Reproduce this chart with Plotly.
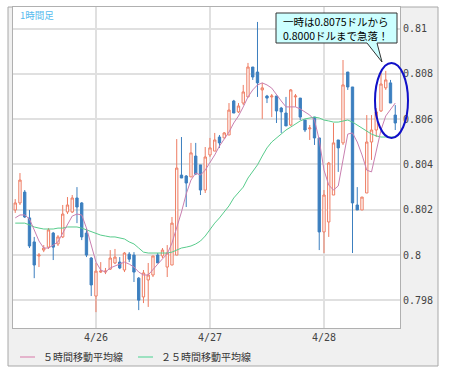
import plotly.graph_objects as go
import pandas as pd

# ---- data (hourly candles, 4/25 07:00 - 4/28 15:00) ----
times = pd.date_range("2017-04-25 07:00", periods=81, freq="h")

opens = [0.80199, 0.80230, 0.80278, 0.80164, 0.80058, 0.79996, 0.80022, 0.80035, 0.80097, 0.80049,
         0.80080, 0.80190, 0.80190, 0.80252, 0.80230, 0.80097, 0.79987, 0.79819, 0.79925, 0.79925,
         0.79938, 0.79965, 0.79969, 0.79934, 0.80004, 0.80000, 0.79898, 0.79815, 0.79890, 0.79912,
         0.80000, 0.79996, 0.79947, 0.79956, 0.80000, 0.80353, 0.80349, 0.80345, 0.80437, 0.80398,
         0.80287, 0.80442, 0.80459, 0.80521, 0.80517, 0.80530, 0.80680, 0.80632, 0.80671, 0.80698,
         0.80830, 0.80808, 0.80729, 0.80702, 0.80698, 0.80702, 0.80649, 0.80627, 0.80574, 0.80698,
         0.80693, 0.80596, 0.80557, 0.80609, 0.80517, 0.80102, 0.80146, 0.80265, 0.80508, 0.80495,
         0.80808, 0.80742, 0.80221, 0.80199, 0.80274, 0.80499, 0.80552, 0.80636, 0.80738, 0.80760,
         0.80618]
highs = [0.80247, 0.80362, 0.80287, 0.80199, 0.80080, 0.80009, 0.80044, 0.80119, 0.80102, 0.80088,
         0.80221, 0.80256, 0.80265, 0.80300, 0.80234, 0.80119, 0.79991, 0.79965, 0.79969, 0.79943,
         0.80022, 0.80027, 0.79991, 0.80013, 0.80013, 0.80013, 0.79903, 0.79934, 0.79965, 0.79996,
         0.80009, 0.80031, 0.80044, 0.80168, 0.80512, 0.80521, 0.80353, 0.80495, 0.80495, 0.80398,
         0.80477, 0.80517, 0.80539, 0.80530, 0.80543, 0.80671, 0.80685, 0.80671, 0.80751, 0.80848,
         0.80830, 0.81029, 0.80760, 0.80707, 0.80711, 0.80702, 0.80654, 0.80698, 0.80733, 0.80711,
         0.80693, 0.80596, 0.80574, 0.80609, 0.80517, 0.80287, 0.80411, 0.80583, 0.80508, 0.80861,
         0.80808, 0.80742, 0.80300, 0.80256, 0.80618, 0.80618, 0.80649, 0.80804, 0.80813, 0.80773,
         0.80662]
lows = [0.80186, 0.80221, 0.80164, 0.80031, 0.79898, 0.79947, 0.80013, 0.80027, 0.79978, 0.80040,
        0.80075, 0.80181, 0.80186, 0.80141, 0.80066, 0.79991, 0.79819, 0.79748, 0.79921, 0.79916,
        0.79934, 0.79960, 0.79938, 0.79925, 0.79969, 0.79881, 0.79757, 0.79788, 0.79771, 0.79903,
        0.79965, 0.79987, 0.79903, 0.79956, 0.80000, 0.80340, 0.80212, 0.80345, 0.80353, 0.80265,
        0.80274, 0.80433, 0.80459, 0.80473, 0.80517, 0.80530, 0.80627, 0.80627, 0.80662, 0.80698,
        0.80773, 0.80698, 0.80601, 0.80671, 0.80609, 0.80583, 0.80539, 0.80570, 0.80570, 0.80654,
        0.80596, 0.80543, 0.80508, 0.80486, 0.80022, 0.80009, 0.80080, 0.80265, 0.80367, 0.80486,
        0.80729, 0.80009, 0.80199, 0.80199, 0.80274, 0.80420, 0.80521, 0.80632, 0.80729, 0.80671,
        0.80552]
closes = [0.80230, 0.80331, 0.80168, 0.80040, 0.79956, 0.80000, 0.80031, 0.80111, 0.80035, 0.80080,
          0.80181, 0.80221, 0.80252, 0.80212, 0.80080, 0.80000, 0.79868, 0.79929, 0.79929, 0.79929,
          0.79987, 0.79991, 0.79943, 0.80009, 0.79982, 0.79925, 0.79801, 0.79921, 0.79912, 0.79996,
          0.79965, 0.80022, 0.80009, 0.80141, 0.80384, 0.80340, 0.80318, 0.80451, 0.80358, 0.80287,
          0.80433, 0.80473, 0.80508, 0.80495, 0.80539, 0.80640, 0.80627, 0.80658, 0.80720, 0.80830,
          0.80786, 0.80760, 0.80738, 0.80693, 0.80702, 0.80636, 0.80632, 0.80570, 0.80729, 0.80702,
          0.80609, 0.80552, 0.80561, 0.80517, 0.80102, 0.80265, 0.80406, 0.80495, 0.80473, 0.80751,
          0.80742, 0.80230, 0.80199, 0.80256, 0.80499, 0.80552, 0.80632, 0.80755, 0.80773, 0.80671,
          0.80583]
ma5 = [0.80164, 0.80177, 0.80177, 0.80159, 0.80111, 0.80062, 0.80031, 0.80031, 0.80044, 0.80058,
       0.80097, 0.80137, 0.80172, 0.80181, 0.80177, 0.80119, 0.80044, 0.79969, 0.79934, 0.79925,
       0.79943, 0.79952, 0.79960, 0.79969, 0.79960, 0.79947, 0.79925, 0.79912, 0.79912, 0.79934,
       0.79960, 0.79983, 0.80005, 0.80053, 0.80119, 0.80190, 0.80270, 0.80331, 0.80362, 0.80353,
       0.80375, 0.80406, 0.80442, 0.80481, 0.80512, 0.80543, 0.80583, 0.80614, 0.80654, 0.80698,
       0.80729, 0.80751, 0.80760, 0.80751, 0.80737, 0.80707, 0.80680, 0.80654, 0.80654, 0.80654,
       0.80645, 0.80632, 0.80618, 0.80596, 0.80508, 0.80375, 0.80309, 0.80287, 0.80305, 0.80420,
       0.80534, 0.80539, 0.80499, 0.80442, 0.80375, 0.80367, 0.80455, 0.80552, 0.80614, 0.80640,
       0.80671]
ma25 = [0.80141, 0.80141, 0.80141, 0.80133, 0.80124, 0.80119, 0.80115, 0.80115, 0.80115, 0.80119,
        0.80119, 0.80124, 0.80124, 0.80124, 0.80119, 0.80111, 0.80106, 0.80097, 0.80088, 0.80084,
        0.80080, 0.80080, 0.80075, 0.80071, 0.80058, 0.80049, 0.80031, 0.80013, 0.80009, 0.80009,
        0.80009, 0.80009, 0.80009, 0.80013, 0.80022, 0.80031, 0.80035, 0.80040, 0.80049, 0.80062,
        0.80084, 0.80115, 0.80141, 0.80164, 0.80190, 0.80217, 0.80252, 0.80274, 0.80300, 0.80340,
        0.80371, 0.80398, 0.80437, 0.80473, 0.80499, 0.80517, 0.80534, 0.80552, 0.80565, 0.80579,
        0.80592, 0.80601, 0.80605, 0.80609, 0.80605, 0.80596, 0.80592, 0.80587, 0.80587, 0.80592,
        0.80596, 0.80587, 0.80574, 0.80561, 0.80548, 0.80534, 0.80526, 0.80521, 0.80521, 0.80521,
        0.80521]

y_ticks = [0.798, 0.800, 0.802, 0.804, 0.806, 0.808, 0.810]
y_ticktext = ["0.798", "0.8", "0.802", "0.804", "0.806", "0.808", "0.81"]
x_ticks = ["2017-04-26", "2017-04-27", "2017-04-28"]
x_ticktext = ["4/26", "4/27", "4/28"]
legend_names = ["５時間移動平均線", "２５時間移動平均線"]
title_text = "1時間足"
callout_lines = ["一時は0.8075ドルから", "0.8000ドルまで急落！"]

# ---- styles / geometry ----
W, H = 450, 378
ML, MR, MT, MB = 13, 50, 7, 50
PW, PH = W - ML - MR, H - MT - MB
RED = "#ee7c62"
BLUE = "#3c7fbf"
PINK = "#c97fb0"
GREEN = "#58cc8c"
MONO = "DejaVu Sans Mono"
JP = "Noto Sans CJK JP"


def px(X):
    return (X - ML) / PW


def py(Y):
    return (H - MB - Y) / PH


fig = go.Figure()
fig.add_trace(go.Candlestick(
    x=times, open=opens, high=highs, low=lows, close=closes,
    increasing=dict(line=dict(color=RED, width=1), fillcolor="white"),
    decreasing=dict(line=dict(color=BLUE, width=1), fillcolor=BLUE),
    whiskerwidth=0, showlegend=False, hoverinfo="skip"))
fig.add_trace(go.Scatter(x=times, y=ma25, mode="lines",
                         line=dict(color=GREEN, width=1), showlegend=False, hoverinfo="skip"))
fig.add_trace(go.Scatter(x=times, y=ma5, mode="lines",
                         line=dict(color=PINK, width=1), showlegend=False, hoverinfo="skip"))

shapes = [
    # outer gray frame
    dict(type="rect", xref="paper", yref="paper", x0=px(8), x1=px(438), y0=py(366), y1=py(7),
         fillcolor="#f0f0f0", line=dict(color="#a8a8a8", width=1), layer="below"),
    # white plot area
    dict(type="rect", xref="paper", yref="paper", x0=0, x1=1, y0=0, y1=1,
         fillcolor="white", line=dict(width=0), layer="below"),
    # callout bubble
    dict(type="path", xref="paper", yref="paper",
         path=("M {a},{b} L {c},{b} L {c},{d} L {e},{d} L {f},{g} L {h},{d} L {a},{d} Z").format(
             a=px(276), b=py(13), c=px(397), d=py(43), e=px(377), f=px(382), g=py(62), h=px(367)),
         fillcolor="#ccffff", line=dict(color="#333333", width=1), layer="above"),
    # blue ellipse
    dict(type="circle", xref="paper", yref="paper", x0=px(375), x1=px(408), y0=py(138), y1=py(63),
         line=dict(color="#1010c8", width=2), layer="above"),
    # legend lines
    dict(type="line", xref="paper", yref="paper", x0=px(20), x1=px(35), y0=py(357), y1=py(357),
         line=dict(color="#e0a0c0", width=1.5)),
    dict(type="line", xref="paper", yref="paper", x0=px(138), x1=px(153), y0=py(357), y1=py(357),
         line=dict(color="#80dcb0", width=1.5)),
]

annotations = [
    dict(text=title_text, xref="paper", yref="paper", x=px(18), y=py(15), xanchor="left",
         yanchor="middle", showarrow=False, font=dict(family=JP, size=9.5, color="#55bbee")),
    dict(text=callout_lines[0], xref="paper", yref="paper", x=px(336), y=py(21.5),
         xanchor="center", yanchor="middle", showarrow=False,
         font=dict(family=JP, size=10.5, color="#000000")),
    dict(text=callout_lines[1], xref="paper", yref="paper", x=px(336), y=py(35.5),
         xanchor="center", yanchor="middle", showarrow=False,
         font=dict(family=JP, size=10.5, color="#000000")),
    dict(text=legend_names[0], xref="paper", yref="paper", x=px(41), y=py(357), xanchor="left",
         yanchor="middle", showarrow=False, font=dict(family=JP, size=10, color="#333333")),
    dict(text=legend_names[1], xref="paper", yref="paper", x=px(159), y=py(357), xanchor="left",
         yanchor="middle", showarrow=False, font=dict(family=JP, size=10, color="#333333")),
]

fig.update_layout(
    width=W, height=H,
    margin=dict(l=ML, r=MR, t=MT, b=MB, pad=0),
    paper_bgcolor="white", plot_bgcolor="white",
    showlegend=False,
    shapes=shapes, annotations=annotations,
    xaxis=dict(type="date", range=["2017-04-25 06:32", "2017-04-28 16:00"],
               tickvals=x_ticks, ticktext=x_ticktext, showgrid=True, gridcolor="#e0e0e0",
               gridwidth=2, zeroline=False, showline=True, linecolor="#b0b0b0", linewidth=1,
               mirror=True, ticks="", tickfont=dict(family=MONO, size=10, color="#444444"),
               rangeslider=dict(visible=False), fixedrange=True),
    yaxis=dict(side="right", range=[0.79678, 0.81095], tickvals=y_ticks, ticktext=y_ticktext,
               showgrid=True, gridcolor="#e0e0e0", gridwidth=2, zeroline=False, showline=True,
               linecolor="#b0b0b0", linewidth=1, mirror=True, ticks="",
               tickfont=dict(family=MONO, size=10, color="#444444"), fixedrange=True),
)

fig.write_html("out.html")
